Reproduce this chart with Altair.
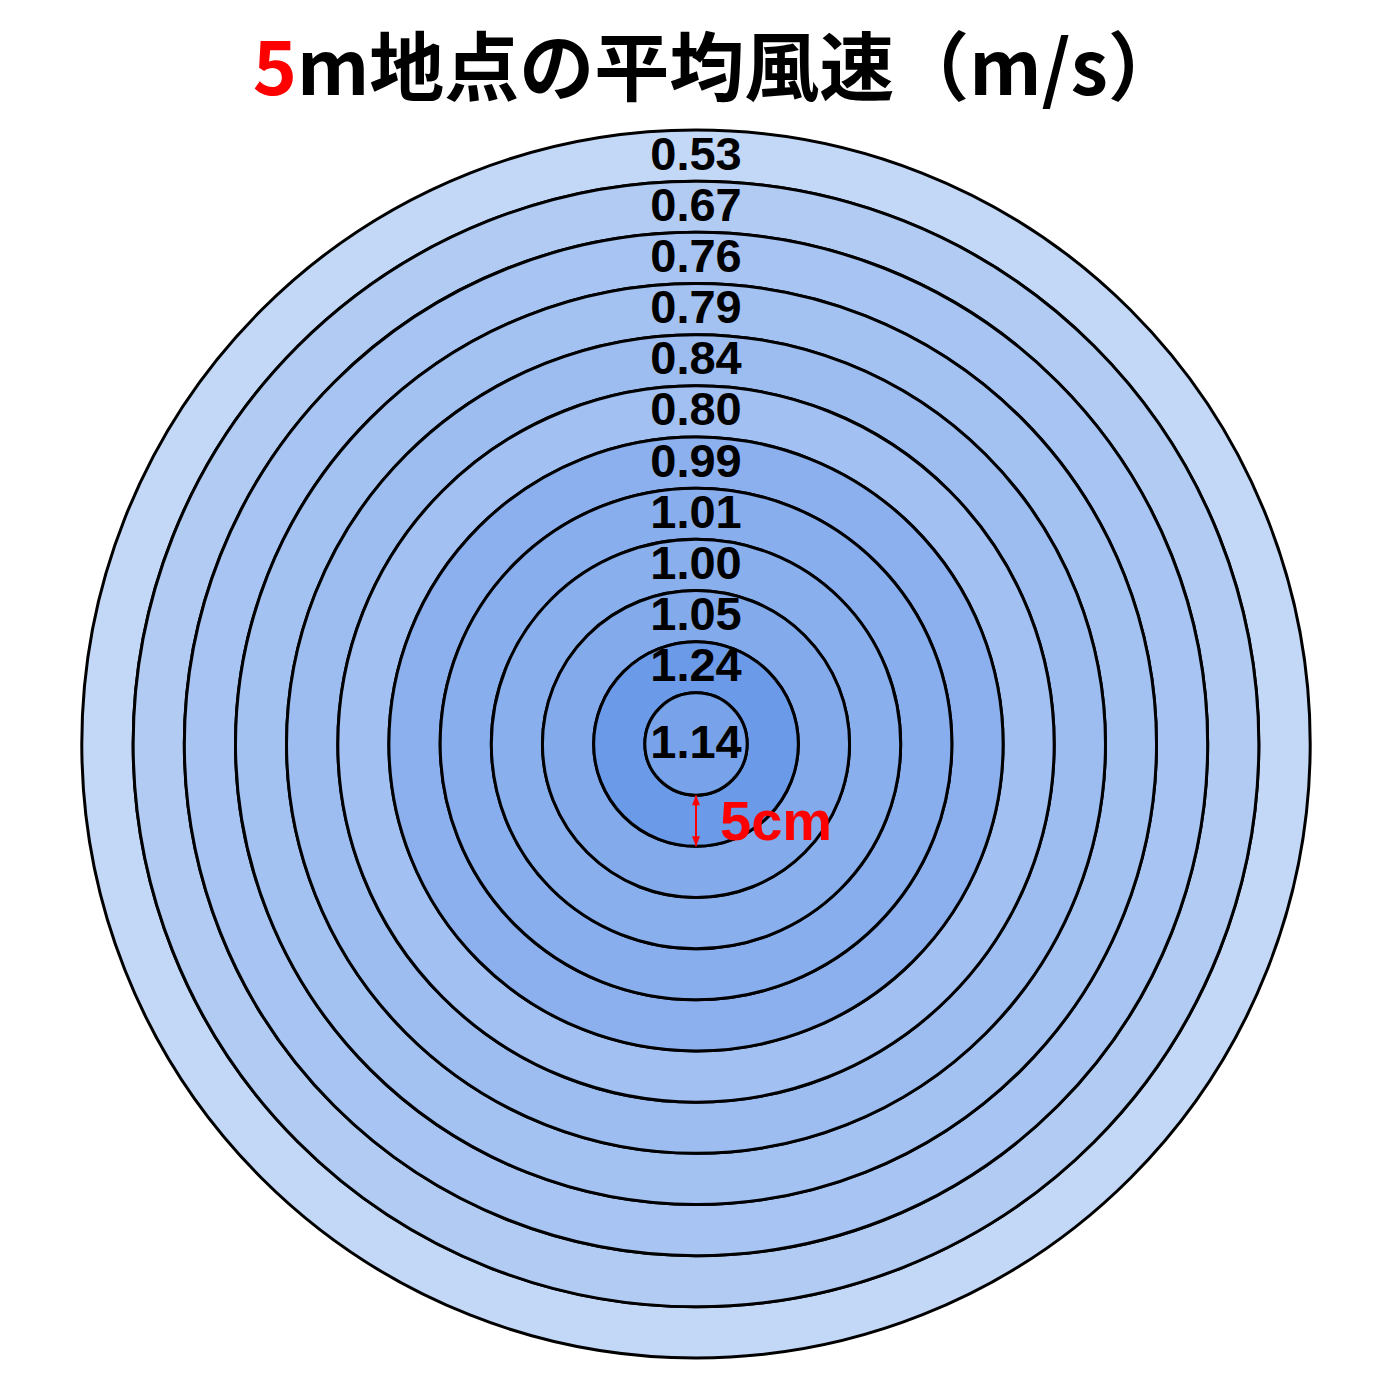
import math
import altair as alt
import pandas as pd

# ---- data (inner ring -> outer ring) ----
ring_values = [1.14, 1.24, 1.05, 1.00, 1.01, 0.99, 0.80, 0.84, 0.79, 0.76, 0.67, 0.53]
ring_width_cm = 5
title_red = "5"
title_black = "m地点の平均風速（m/s）"
scale_label = "5cm"

n = len(ring_values)
rings = pd.DataFrame({
    "ring": list(range(1, n + 1)),
    "value": ring_values,
    "r_in": [ring_width_cm * (i - 1) for i in range(1, n + 1)],
    "r_out": [ring_width_cm * i for i in range(1, n + 1)],
    "cx": [0] * n,
    "cy": [0] * n,
})
rings["label_y"] = [0 if i == 1 else ring_width_cm * i - ring_width_cm / 2 for i in range(1, n + 1)]
rings["label"] = [f"{v:.2f}" for v in ring_values]

arrow = pd.DataFrame({"x": [0], "y": [-ring_width_cm], "y2": [-2 * ring_width_cm]})
heads = pd.DataFrame({"x": [0, 0], "y": [-ring_width_cm, -2 * ring_width_cm], "dir": ["up", "down"]})

# ---- layout ----
W, H = 1376, 1380
R_PX = 614.0
k = R_PX / (n * ring_width_cm)  # px per cm
CX, CY = 688, 736
xs = alt.Scale(domain=[-CX / k, (W - CX) / k], nice=False, zero=False)
ys = alt.Scale(domain=[-(H - CY) / k, CY / k], nice=False, zero=False)
rs = alt.Scale(type="linear", domain=[0, n * ring_width_cm], range=[0, R_PX], zero=True, nice=False)
cs = alt.Scale(domain=[min(ring_values), max(ring_values)], range=["#c3d7f6", "#6b9be8"])

base = alt.Chart(rings)

disc = base.mark_arc(theta=0, theta2=6.2832, stroke="black", strokeWidth=3).encode(
    x=alt.X("cx:Q", scale=xs, axis=None),
    y=alt.Y("cy:Q", scale=ys, axis=None),
    radius=alt.Radius("r_out:Q", scale=rs),
    radius2=alt.Radius2("r_in:Q"),
    color=alt.Color("value:Q", scale=cs, legend=None),
    order=alt.Order("ring:Q", sort="descending"),
)

labels = base.mark_text(
    font="Liberation Sans", fontWeight="bold", fontSize=47, color="black",
    align="center", baseline="middle",
).encode(
    x=alt.X("cx:Q", scale=xs, axis=None),
    y=alt.Y("label_y:Q", scale=ys, axis=None),
    text="label:N",
)

rule = alt.Chart(arrow).mark_rule(color="#ff0000", strokeWidth=2).encode(
    x=alt.X("x:Q", scale=xs, axis=None),
    y=alt.Y("y:Q", scale=ys, axis=None),
    y2="y2:Q",
)

head_up = alt.Chart(heads).transform_filter(alt.datum.dir == "up").mark_point(
    shape="M0,0 L-0.4,1 L0.4,1 Z", size=400, filled=True, color="#ff0000", opacity=1
).encode(x=alt.X("x:Q", scale=xs, axis=None), y=alt.Y("y:Q", scale=ys, axis=None))

head_down = alt.Chart(heads).transform_filter(alt.datum.dir == "down").mark_point(
    shape="M0,0 L-0.4,-1 L0.4,-1 Z", size=400, filled=True, color="#ff0000", opacity=1
).encode(x=alt.X("x:Q", scale=xs, axis=None), y=alt.Y("y:Q", scale=ys, axis=None))

cm_label = alt.Chart(pd.DataFrame({"t": [scale_label]})).mark_text(
    font="Liberation Sans", fontWeight="bold", fontSize=56, color="#ff0000",
    align="left", baseline="middle",
).encode(x=alt.value(712), y=alt.value(815), text="t:N")

SPLIT = 289
t_red = alt.Chart(pd.DataFrame({"t": [title_red]})).mark_text(
    font="Noto Sans CJK JP", fontWeight="bold", fontSize=75, color="#ff0000",
    align="right", baseline="alphabetic",
).encode(x=alt.value(SPLIT), y=alt.value(87), text="t:N")

t_black = alt.Chart(pd.DataFrame({"t": [title_black]})).mark_text(
    font="Noto Sans CJK JP", fontWeight="bold", fontSize=75, color="black",
    align="left", baseline="alphabetic",
).encode(x=alt.value(SPLIT), y=alt.value(87), text="t:N")

chart = alt.layer(disc, labels, rule, head_up, head_down, cm_label, t_red, t_black).properties(
    width=W, height=H, padding=0, background="white",
    autosize=alt.AutoSizeParams(type="none"),
).configure_view(strokeWidth=0, stroke="transparent")

chart.save("out.html", embed_options={"renderer": "svg", "actions": False})
